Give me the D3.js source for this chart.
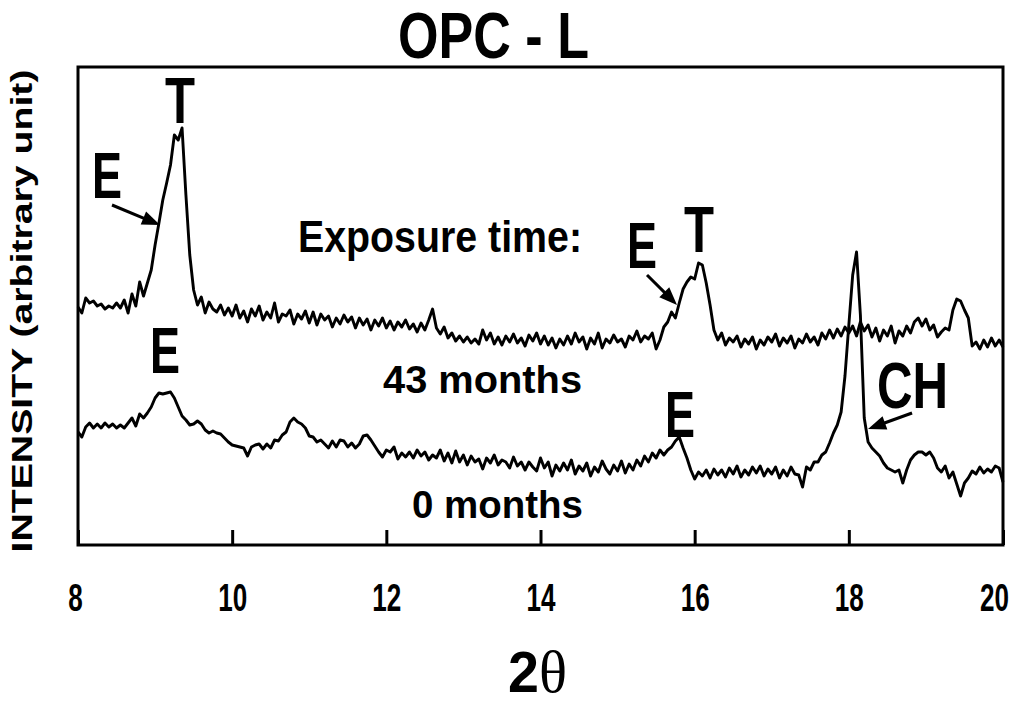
<!DOCTYPE html>
<html><head><meta charset="utf-8">
<script src="https://cdn.jsdelivr.net/npm/d3@7"></script>
<style>body{margin:0;background:#fff}svg{display:block}</style>
</head><body><svg id="c" width="1024" height="704"></svg>
<script>
// 2-theta sampling grid (degrees), step 0.05
const twoTheta = d3.range(241).map(i => +(8 + i * 0.05).toFixed(2));

// Intensity (arbitrary unit), 43 months exposure (upper trace, offset)
const months43 = [
238,232,247,242,244,239,241,236,239,237,
242,237,245,232,251,239,263,249,262,275,
300,322,345,362,380,410,405,417,350,290,
255,240,248,232,243,236,233,240,230,237,
229,240,227,234,223,236,229,239,225,233,
227,242,223,231,229,235,221,231,226,234,
222,233,220,231,225,229,218,227,221,230,
223,228,217,227,220,226,215,225,219,227,
217,224,215,223,218,225,216,221,213,222,
215,225,236,217,211,218,207,212,204,209,
203,208,202,206,201,215,205,212,201,208,
200,209,203,211,202,207,199,210,204,212,
201,209,200,207,197,206,200,209,201,212,
203,208,196,207,201,212,197,206,202,210,
203,206,198,209,205,214,203,209,206,212,
196,205,218,223,233,227,242,256,263,268,
266,282,280,262,240,215,205,212,200,207,
203,209,198,206,201,208,196,205,200,208,
203,211,199,207,202,209,197,206,202,211,
203,208,200,212,206,215,207,216,209,218,
212,219,209,223,214,220,208,217,204,215,
209,219,202,214,209,219,212,223,227,219,
226,215,220,208,213,217,215,235,246,244,
235,227,199,203,196,205,198,207,199,205,
198];

// Intensity (arbitrary unit), 0 months (lower trace)
const months0 = [
113,108,118,122,117,121,117,122,118,121,
117,120,117,122,127,119,131,127,132,138,
147,152,151,152,153,147,138,129,125,120,
121,124,121,115,112,114,112,111,107,103,
100,99,98,97,89,98,100,101,96,101,
97,105,104,110,113,123,127,123,121,117,
109,108,103,105,101,97,104,98,105,104,
98,102,97,101,109,110,105,99,93,88,
95,93,98,86,92,88,93,87,95,89,
93,85,90,87,95,84,92,82,94,83,
90,80,89,83,86,76,87,82,90,80,
85,83,77,88,79,83,75,83,78,74,
87,77,83,69,80,74,82,75,85,71,
79,74,82,69,78,73,84,76,71,80,
74,84,72,81,75,85,79,89,83,92,
87,95,90,95,98,104,108,97,87,75,
66,73,69,75,67,76,70,75,68,77,
71,79,68,75,70,78,72,79,69,76,
71,78,67,75,69,78,71,70,58,78,
75,83,83,90,93,102,112,120,133,169,
220,270,293,230,127,103,97,93,89,82,
77,75,73,75,62,75,85,90,93,93,
90,93,87,77,73,79,67,73,61,49,
62,67,74,71,78,72,76,73,79,77,
63];

const xTicks = [8, 10, 12, 14, 16, 18, 20];
const titleText = "OPC - L";
const yLabelText = "INTENSITY (arbitrary unit)";

// peak labels: [text, 2theta (centre), intensity (baseline)]
const peakLabels = [
  ["T", 9.323, 422], ["E", 8.376, 347],
  ["E", 15.317, 277], ["T", 16.056, 293],
  ["E", 9.129, 172], ["E", 15.810, 108],
  ["CH", 18.826, 137]
];
// series captions: [text, 2theta (start), intensity (baseline), size, width]
const captions = [
  ["Exposure time:", 10.854, 293, 44, 284],
  ["43 months", 11.957, 152, 39, 199],
  ["0 months", 12.333, 27, 39, 171]
];
// arrows: [from 2theta, from I, to 2theta, to I]
const arrows = [
  [8.441, 340, 9.064, 320],
  [15.382, 270, 15.771, 240],
  [18.820, 132, 18.249, 116]
];

const FONT = "'Liberation Sans Narrow','Arial Narrow','Liberation Sans',Arial,sans-serif";
const svg = d3.select("#c");
const L = 78, R = 1003, T = 67, B = 545;
const x = d3.scaleLinear().domain([8, 20]).range([L, R]);
const y = d3.scaleLinear().domain([0, 478]).range([B, T]);

// traces
const line = d3.line().x((d, i) => x(twoTheta[i])).y(d => y(d)).curve(d3.curveLinear);
[months43, months0].forEach(s => {
  svg.append("path").datum(s).attr("d", line)
    .attr("fill", "none").attr("stroke", "#000").attr("stroke-width", 2.9)
    .attr("stroke-linejoin", "round");
});

// frame
svg.append("rect").attr("x", L).attr("y", T).attr("width", R - L).attr("height", B - T)
  .attr("fill", "none").attr("stroke", "#000").attr("stroke-width", 3);

// x axis
const ax = svg.append("g").attr("transform", `translate(0,${B})`)
  .call(d3.axisBottom(x).tickValues(xTicks).tickSizeInner(-15).tickSizeOuter(0).tickFormat(d3.format("d")));
ax.select(".domain").remove();
ax.selectAll(".tick line").attr("stroke", "#000").attr("stroke-width", 3);
ax.selectAll(".tick text").attr("y", 66).attr("dy", 0)
  .attr("dx", d => d === 8 ? -3 : (d === 20 ? -9 : 0))
  .attr("fill", "#000").style("font-family", FONT).style("font-weight", "bold").style("font-size", "39px")
  .attr("textLength", d => String(d).length * 14.5).attr("lengthAdjust", "spacingAndGlyphs");

function txt(s, px, py, size, anchor, len, family, weight) {
  const t = svg.append("text").attr("x", px).attr("y", py).text(s)
    .attr("text-anchor", anchor).style("font-family", family || FONT)
    .style("font-weight", weight || "bold").style("font-size", size + "px").attr("fill", "#000");
  if (len) t.attr("textLength", len).attr("lengthAdjust", "spacingAndGlyphs");
  return t;
}

// title
txt(titleText, 398, 58, 64, "start", 191);
// x label 2θ (single text element)
const xl = svg.append("text").attr("x", 508).attr("y", 692).attr("fill", "#000")
  .style("font-size", "57px").attr("textLength", 59).attr("lengthAdjust", "spacingAndGlyphs");
xl.append("tspan").text("2").style("font-family", FONT).style("font-weight", "bold");
xl.append("tspan").text("θ").style("font-family", "'Liberation Serif','Times New Roman',serif")
  .style("font-weight", "normal").style("font-size", "60px");
// y label
svg.append("text").attr("transform", "translate(32,311) rotate(-90)")
  .attr("text-anchor", "middle").text(yLabelText).attr("fill", "#000")
  .style("font-family", FONT).style("font-weight", "bold").style("font-size", "30px")
  .attr("textLength", 483).attr("lengthAdjust", "spacingAndGlyphs");

// peak labels
peakLabels.forEach(([s, a, v]) => {
  txt(s, x(a), y(v), 64, "middle", s.length === 2 ? 71 : 30);
});
captions.forEach(([s, a, v, size, len]) => txt(s, x(a), y(v), size, "start", len));

// arrows
arrows.forEach(([a0, v0, a1, v1]) => {
  const x0 = x(a0), y0 = y(v0), x1 = x(a1), y1 = y(v1);
  const dx = x1 - x0, dy = y1 - y0, len = Math.hypot(dx, dy);
  const ux = dx / len, uy = dy / len, hl = 18, hw = 7;
  const bx = x1 - ux * hl, by = y1 - uy * hl;
  svg.append("line").attr("x1", x0).attr("y1", y0).attr("x2", bx + ux * 2).attr("y2", by + uy * 2)
    .attr("stroke", "#000").attr("stroke-width", 3);
  svg.append("path").attr("d", `M${x1},${y1}L${bx - uy * hw},${by + ux * hw}L${bx + uy * hw},${by - ux * hw}Z`)
    .attr("fill", "#000");
});
</script></body></html>
